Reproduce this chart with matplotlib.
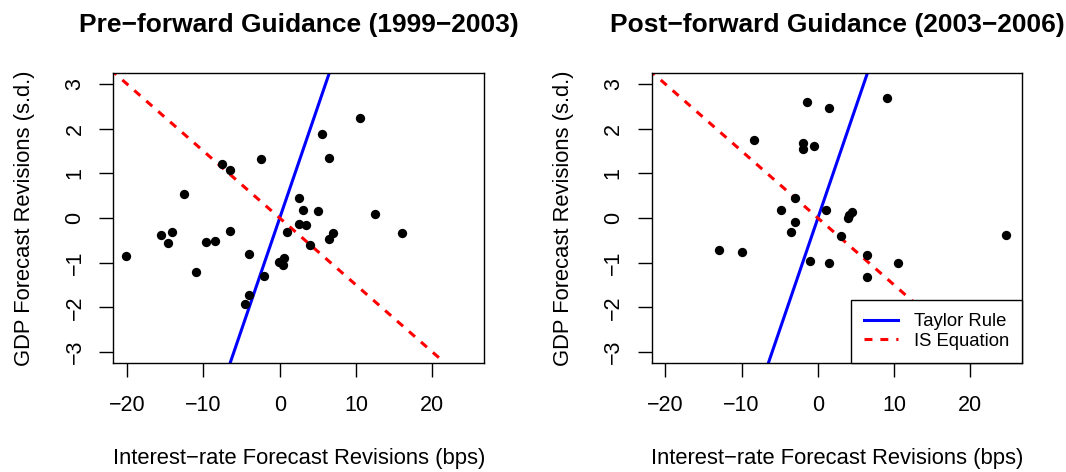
import numpy as np
import matplotlib.pyplot as plt

plt.rcParams['font.family'] = ['Liberation Sans', 'DejaVu Sans']

# revisions avant forward guidance (1999-2003)
pre_x = [10.5, 5.5, 6.4, -2.5, -7.5, -6.5, -12.5, 2.5, 3.0, 5.0, 12.5, 2.5, 3.5,
         1.0, 7.0, 6.5, 16.0, 4.0, -15.6, -14.1, -14.6, -9.6, -8.5, -6.5, -20.1,
         -4.0, 0.5, -0.1, 0.4, -11.0, -2.0, -4.0, -4.6]
pre_y = [2.23, 1.88, 1.35, 1.32, 1.21, 1.08, 0.53, 0.45, 0.19, 0.16, 0.10, -0.13,
         -0.16, -0.32, -0.34, -0.46, -0.34, -0.60, -0.37, -0.31, -0.57, -0.54,
         -0.52, -0.30, -0.86, -0.81, -0.89, -0.98, -1.06, -1.21, -1.30, -1.73, -1.92]

# apres forward guidance (2003-2006)
post_x = [9.0, -1.4, 1.5, -8.4, -1.9, -2.0, -0.5, -3.0, -4.9, 1.1, 4.5, 4.1, 4.0,
          -3.0, -3.5, 3.0, 24.6, -13.0, -9.9, 6.5, -1.0, 1.5, 10.5, 6.5]
post_y = [2.68, 2.59, 2.47, 1.74, 1.69, 1.54, 1.62, 0.45, 0.17, 0.17, 0.14, 0.07,
          0.01, -0.10, -0.31, -0.41, -0.39, -0.72, -0.77, -0.83, -0.97, -1.01,
          -1.00, -1.31]

taylor_slope = 0.5
is_slope = -0.15
titles = ['Pre\u2212forward Guidance (1999\u22122003)',
          'Post\u2212forward Guidance (2003\u22122006)']
xlab = 'Interest\u2212rate Forecast Revisions (bps)'
ylab = 'GDP Forecast Revisions (s.d.)'

fig = plt.figure(figsize=(10.66, 4.72), dpi=100)
ax1 = fig.add_axes([0.1063, 0.2316, 0.348, 0.613])
ax2 = fig.add_axes([0.6113, 0.2316, 0.3477, 0.613])

xl = np.array([-30, 30])
xr = np.array([-30, 21])

for ax, xs, ys, t in [(ax1, pre_x, pre_y, titles[0]), (ax2, post_x, post_y, titles[1])]:
    ax.scatter(xs, ys, s=45, color='black', zorder=3, linewidths=0)
    ax.plot(xl, taylor_slope*xl, color='blue', lw=2.2, label='Taylor Rule')
    ax.plot(xr, is_slope*xr, color='red', lw=2.2, linestyle=(0, (2.6, 2.6)), label='IS Equation')
    ax.set_xlim(-21.8, 26.8)
    ax.set_ylim(-3.24, 3.24)
    ax.set_xticks([-20, -10, 0, 10, 20])
    ax.set_xticklabels(['\u221220', '\u221210', '0', '10', '20'])
    ax.set_yticks([-3, -2, -1, 0, 1, 2, 3])
    ax.set_yticklabels(['\u22123', '\u22122', '\u22121', '0', '1', '2', '3'],
                       rotation=90, va='center')
    ax.tick_params(labelsize=15.5, length=10, width=1)
    ax.tick_params(axis='x', pad=13)
    ax.tick_params(axis='y', pad=10)
    for sp in ax.spines.values():
        sp.set_linewidth(1)
    ax.set_title(t, fontsize=19, fontweight='bold', pad=30)
    ax.set_xlabel(xlab, fontsize=15.8, labelpad=23)
    ax.set_ylabel(ylab, fontsize=15.8, labelpad=21)

leg = ax2.legend(loc='lower right', fontsize=13.3, fancybox=False, framealpha=1,
                 edgecolor='black', borderaxespad=0, handlelength=1.85,
                 handletextpad=0.85, borderpad=0.7, labelspacing=0.15)
leg.get_frame().set_linewidth(1)

plt.savefig('out.png', dpi=100)
